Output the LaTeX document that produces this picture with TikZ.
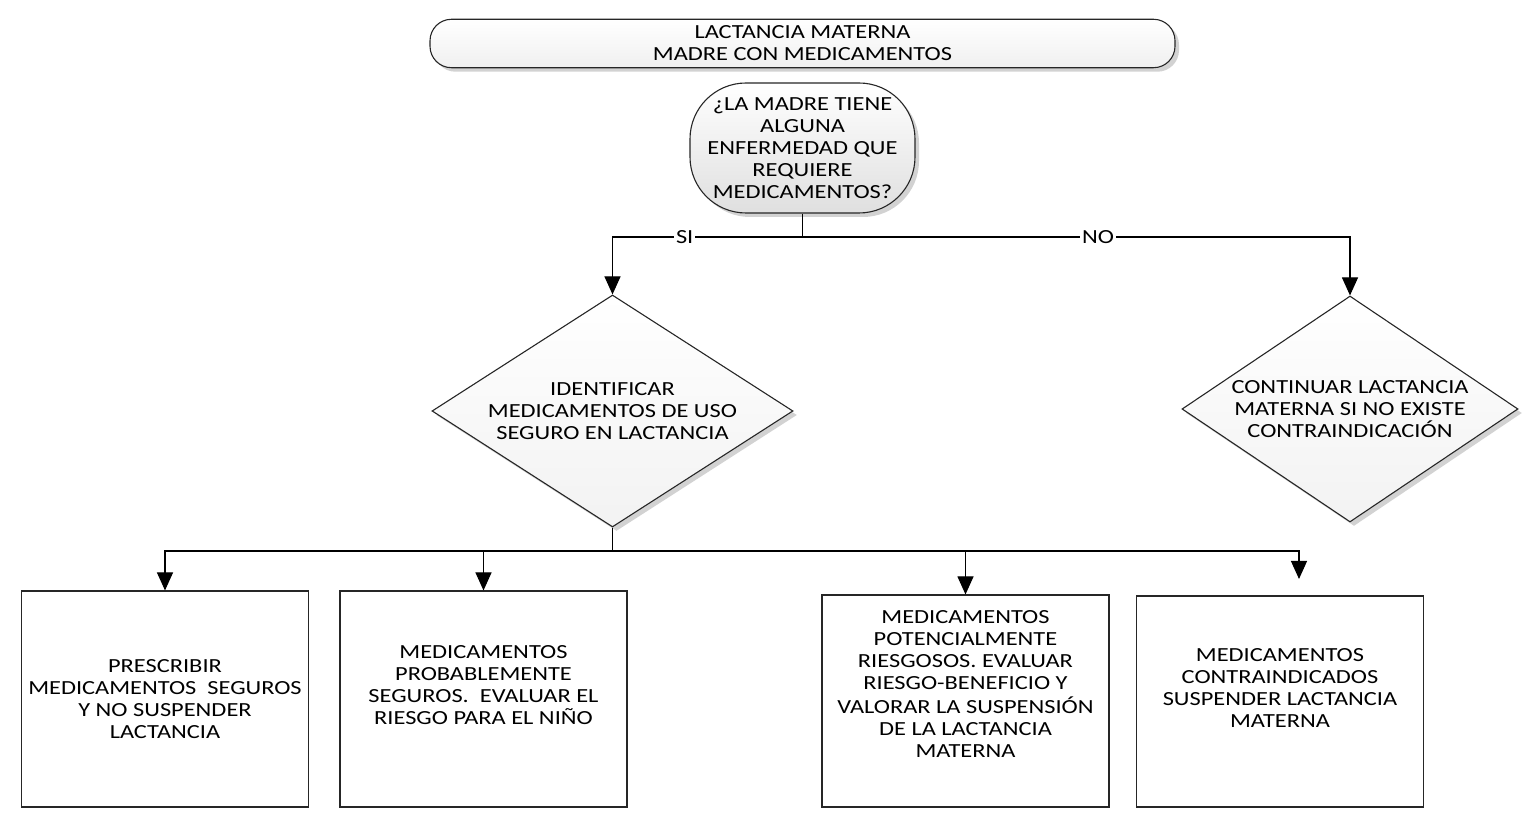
\documentclass[tikz,border=0pt]{standalone}
\usepackage{fontspec}
\setmainfont{Carlito}[FakeStretch=1.22]
\usetikzlibrary{shapes.geometric,shadows,arrows.meta}
\newcommand\lifted[2]{\raisebox{#1}[\height][\depth]{\begin{tabular}{@{}c@{}}#2\end{tabular}}}
\tikzset{
  base/.style={font=\fontsize{10}{11}\selectfont, align=center, draw=black!85, line width=0.55pt},
  shade/.style={drop shadow={shadow xshift=2pt, shadow yshift=-2pt, fill=gray!35, opacity=1}},
  headbox/.style={base, shade, rounded corners=10.75pt, minimum width=372.5pt, minimum height=21.5pt, top color=white, bottom color=gray!12},
  askbox/.style={base, shade, rounded corners=28pt, minimum width=112.5pt, minimum height=65pt, top color=white, bottom color=gray!25},
  choice/.style={base, shade, diamond, aspect=1.5, inner sep=0pt, top color=white, bottom color=gray!10},
  actbox/.style={base, rectangle, minimum width=143.5pt, fill=white},
  link/.style={draw=black, line width=0.55pt},
  arr/.style={link, -{Triangle[length=9pt,width=8pt]}},
  tag/.style={font=\fontsize{10}{11}\selectfont, fill=white, inner sep=1pt}
}
\begin{document}
\begin{tikzpicture}[x=0.5pt,y=-0.5pt]
\useasboundingbox (0,0) rectangle (1533,828);
% top of the chart
\node[headbox] (head) at (802.5,43.5) {LACTANCIA MATERNA\\MADRE CON MEDICAMENTOS};
\node[askbox] (ask) at (802.5,148) {¿LA MADRE TIENE\\ALGUNA\\ENFERMEDAD QUE\\REQUIERE\\MEDICAMENTOS?};
% the two answers
\node[choice, minimum width=180.5pt, minimum height=116pt] (ident) at (612.5,411) {IDENTIFICAR\\MEDICAMENTOS DE USO\\SEGURO EN LACTANCIA};
\node[choice, minimum width=168pt, minimum height=113pt] (cont) at (1350,409) {CONTINUAR LACTANCIA\\MATERNA SI NO EXISTE\\CONTRAINDICACIÓN};
% kinds of medicines
\node[actbox, minimum height=108pt] (safe) at (165,699) {PRESCRIBIR\\MEDICAMENTOS~~SEGUROS\\Y NO SUSPENDER\\LACTANCIA};
\node[actbox, minimum height=108pt] (prob) at (483.5,699) {\lifted{6pt}{MEDICAMENTOS\\PROBABLEMENTE\\SEGUROS.~~EVALUAR EL\\RIESGO PARA EL NIÑO}};
\node[actbox, minimum height=106pt] (risk) at (965.5,701) {\lifted{7.5pt}{MEDICAMENTOS\\POTENCIALMENTE\\RIESGOSOS. EVALUAR\\RIESGO-BENEFICIO Y\\VALORAR LA SUSPENSIÓN\\DE LA LACTANCIA\\MATERNA}};
\node[actbox, minimum height=105.5pt] (contra) at (1280,701.5) {\lifted{5.75pt}{MEDICAMENTOS\\CONTRAINDICADOS\\SUSPENDER LACTANCIA\\MATERNA}};
\coordinate (split) at (802.5,237);
\coordinate (fork) at (612.5,551);
\coordinate (stop) at (1299,579);
% connectors
\draw[link] (ask) -- (split);
\draw[arr] (split) -| node[tag, pos=.31] {SI} (ident.north);
\draw[arr] (split) -| node[tag, pos=.27] {NO} (cont.north);
\draw[link] (ident) -- (fork);
\foreach \b in {safe,prob,risk}{
    \draw[arr] (fork) -| (\b.north);
}
\draw[arr] (fork) -| (stop);
\end{tikzpicture}
\end{document}
